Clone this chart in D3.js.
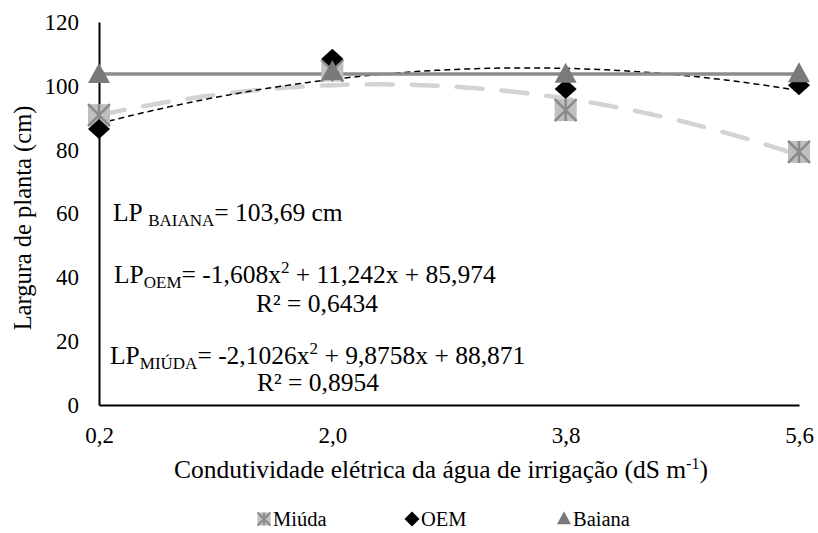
<!DOCTYPE html>
<html>
<head>
<meta charset="utf-8">
<script src="https://cdn.jsdelivr.net/npm/d3@7"></script>
<style>
  html, body { margin: 0; padding: 0; background: #fff; }
  svg, svg text { font-family: "Liberation Serif", "Times New Roman", Times, "DejaVu Serif", serif; }
  svg { display: block; }
</style>
</head>
<body>
<svg id="chart" width="818" height="533"></svg>
<script>
// Electrical conductivity levels (dS m-1) and their axis labels
const ecLevels = [0.2, 2.0, 3.8, 5.6];
const ecLabels = ["0,2", "2,0", "3,8", "5,6"];
const yTicks = [0, 20, 40, 60, 80, 100, 120];

// Plant width (cm) per cultivar
const miuda = [90.8, 104.8, 92.4, 79.3];
const oem = [86.5, 108.5, 99.0, 100.2];
const baiana = [103.4, 104.3, 103.5, 103.6];

// Fitted models
const baianaMean = 103.69;
const oemCoef = [-1.608, 11.242, 85.974];
const miudaCoef = [-2.1026, 9.8758, 88.871];

const FONT = '"Liberation Serif", "Times New Roman", Times, "DejaVu Serif", serif';
const svg = d3.select("#chart");

const x = d3.scaleLinear().domain([0.2, 5.6]).range([99, 799]);
const y = d3.scaleLinear().domain([0, 120]).range([405, 22]);

// Axes (no tick marks, plain lines)
const xAxis = d3.axisBottom(x).tickValues(ecLevels)
  .tickFormat((d, i) => ecLabels[i]).tickSize(0).tickPadding(22);
const gx = svg.append("g").attr("transform", `translate(0,${y(0)})`).call(xAxis)
  .attr("font-family", FONT).attr("font-size", 23);
gx.select(".domain").attr("stroke", "#000").attr("stroke-width", 2);
gx.selectAll("text").attr("fill", "#000");

const yAxis = d3.axisLeft(y).tickValues(yTicks).tickSize(0).tickPadding(20);
const gy = svg.append("g").attr("transform", `translate(${x(0.2)},0)`).call(yAxis)
  .attr("font-family", FONT).attr("font-size", 23);
gy.select(".domain").attr("stroke", "#000").attr("stroke-width", 2);
gy.selectAll("text").attr("fill", "#000");

// Axis titles
svg.append("text")
  .attr("transform", `translate(31,218) rotate(-90)`)
  .attr("text-anchor", "middle")
  .attr("font-family", FONT).attr("font-size", 24.5)
  .text("Largura de planta (cm)");

const xt = svg.append("text")
  .attr("x", 441).attr("y", 478)
  .attr("text-anchor", "middle")
  .attr("font-family", FONT).attr("font-size", 25.5)
  .text("Condutividade elétrica da água de irrigação (dS m");
xt.append("tspan").attr("dy", -9).attr("font-size", 16).text("-1");
xt.append("tspan").attr("dy", 9).text(")");

// Trend curves
const quad = c => v => c[0] * v * v + c[1] * v + c[2];
const samples = d3.range(0.2, 5.6001, 0.05);
const line = f => d3.line().x(d => x(d)).y(d => y(f(d)))(samples);

svg.append("path").attr("d", line(quad(miudaCoef)))
  .attr("fill", "none").attr("stroke", "#d3d3d3")
  .attr("stroke-width", 4.5).attr("stroke-linecap", "round")
  .attr("stroke-dasharray", "26,19");

svg.append("path").attr("d", line(quad(oemCoef)))
  .attr("fill", "none").attr("stroke", "#000")
  .attr("stroke-width", 1.5).attr("stroke-dasharray", "6,4");

svg.append("path").attr("d", line(() => baianaMean))
  .attr("fill", "none").attr("stroke", "#8c8c8c").attr("stroke-width", 3.5);

// Marker shapes
function starBox(g, cx, cy, s) {
  const h = s / 2;
  g.append("rect").attr("x", cx - h).attr("y", cy - h).attr("width", s).attr("height", s)
    .attr("fill", "#bfbfbf");
  g.append("path")
    .attr("d", `M${cx - h},${cy - h}L${cx + h},${cy + h}M${cx + h},${cy - h}L${cx - h},${cy + h}M${cx},${cy - h}L${cx},${cy + h}`)
    .attr("stroke", "#8a8a8a").attr("stroke-width", s > 15 ? 2.5 : 1.8);
}
function diamond(g, cx, cy, w, h) {
  g.append("path")
    .attr("d", `M${cx},${cy - h / 2}L${cx + w / 2},${cy}L${cx},${cy + h / 2}L${cx - w / 2},${cy}Z`)
    .attr("fill", "#000");
}
function triangle(g, cx, cy, w, h) {
  g.append("path")
    .attr("d", `M${cx},${cy - h * 0.6}L${cx + w / 2},${cy + h * 0.4}L${cx - w / 2},${cy + h * 0.4}Z`)
    .attr("fill", "#7a7a7a");
}

const marks = svg.append("g");
miuda.forEach((v, i) => starBox(marks, x(ecLevels[i]), y(v), 22));
oem.forEach((v, i) => diamond(marks, x(ecLevels[i]), y(v), 22, 20));
baiana.forEach((v, i) => triangle(marks, x(ecLevels[i]), y(v), 22, 20));

// Equations
const eq = svg.append("g").attr("font-family", FONT).attr("font-size", 25.5);
function eqLine(xp, yp, parts) {
  const t = eq.append("text").attr("x", xp).attr("y", yp);
  parts.forEach(p => {
    const s = t.append("tspan").text(p.t);
    if (p.sub) s.attr("font-size", 17).attr("dy", 5);
    if (p.sup) s.attr("font-size", 17).attr("dy", -10);
    if (p.back) s.attr("dy", p.back);
  });
}
eqLine(113, 221, [{t: "LP "}, {t: "BAIANA", sub: true}, {t: "= 103,69 cm", back: -5}]);
eqLine(114, 283, [{t: "LP"}, {t: "OEM", sub: true}, {t: "= -1,608x", back: -5}, {t: "2", sup: true}, {t: " + 11,242x + 85,974", back: 10}]);
eqLine(256, 312, [{t: "R² = 0,6434"}]);
eqLine(110, 364, [{t: "LP"}, {t: "MIÚDA", sub: true}, {t: "= -2,1026x", back: -5}, {t: "2", sup: true}, {t: " + 9,8758x + 88,871", back: 10}]);
eqLine(257, 391, [{t: "R² = 0,8954"}]);

// Legend
const lg = svg.append("g").attr("font-family", FONT).attr("font-size", 20.5);
const legendItems = [
  {name: "Miúda", x: 264, draw: (g, cx, cy) => starBox(g, cx, cy, 13)},
  {name: "OEM", x: 412, draw: (g, cx, cy) => diamond(g, cx, cy, 15, 15)},
  {name: "Baiana", x: 564, draw: (g, cx, cy) => triangle(g, cx, cy, 14, 13)}
];
legendItems.forEach(it => {
  it.draw(lg, it.x, 519);
  lg.append("text").attr("x", it.x + 9).attr("y", 526).text(it.name);
});
</script>
</body>
</html>
